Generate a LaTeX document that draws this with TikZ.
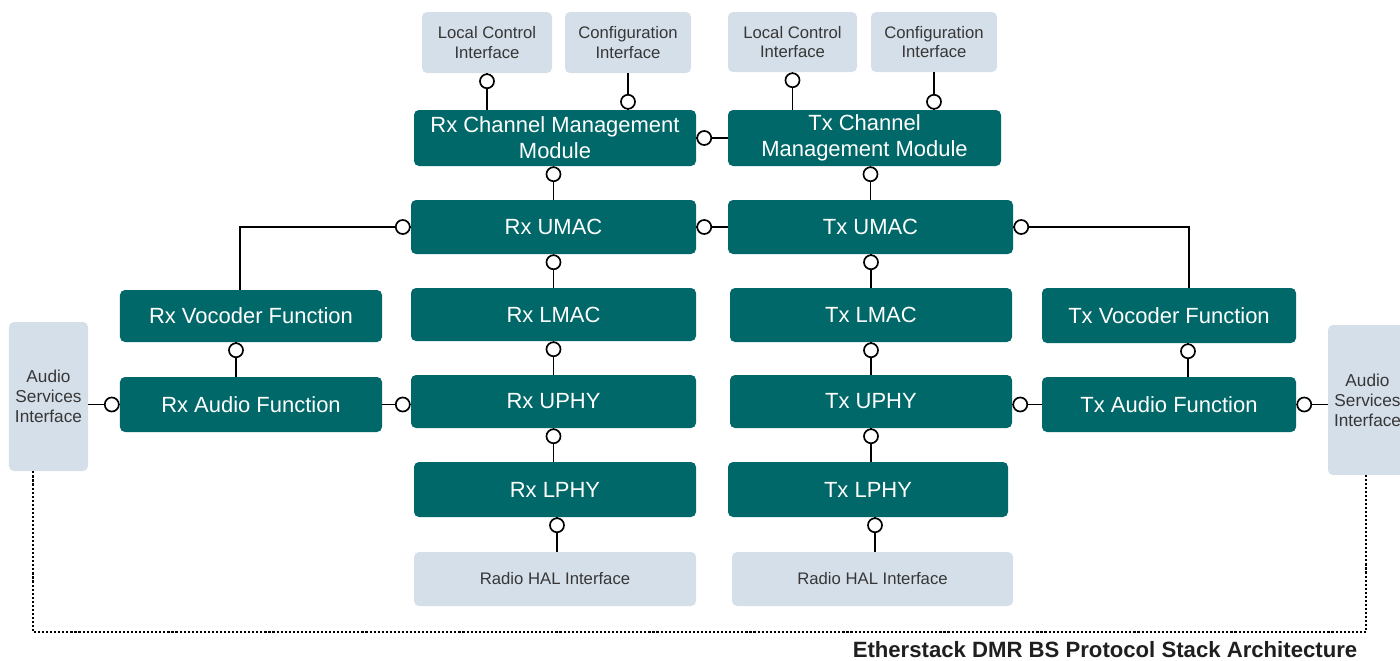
\documentclass[tikz,border=0pt]{standalone}
\usepackage{fontspec}
\setmainfont{Liberation Sans}
\definecolor{tealfill}{RGB}{0,104,104}
\definecolor{greyfill}{RGB}{213,223,233}
\definecolor{greytext}{RGB}{55,55,55}
\tikzset{
	tealbox/.style={draw=none, fill=tealfill, rounded corners=1mm, text=white, align=center,
		inner sep=0pt, font=\fontsize{12.5}{14.7}\selectfont},
	greybox/.style={draw=none, fill=greyfill, rounded corners=1mm, text=greytext, align=center,
		inner sep=0pt, font=\fontsize{9.5}{11.3}\selectfont},
	link/.style={line width=0.95pt, black},
	lolli/.style={circle, draw=black, line width=0.95pt, fill=white, inner sep=0pt, minimum size=8pt},
	dotline/.style={line width=1.2pt, dash pattern=on 1.2pt off 1.1pt}
}
\begin{document}
\begin{tikzpicture}[x=0.2mm, y=-0.2mm]
		\useasboundingbox (0,0) rectangle (1400,660);
		% interfaces on top
		\node[greybox, minimum width=26mm, minimum height=12.2mm] (rxlci) at (487,42.5) {Local Control\\Interface};
		\node[greybox, minimum width=25.2mm, minimum height=12.2mm] (rxci) at (628,42.5) {Configuration\\Interface};
		\node[greybox, minimum width=25.8mm, minimum height=12mm] (txlci) at (792.5,42) {Local Control\\Interface};
		\node[greybox, minimum width=25.2mm, minimum height=12mm] (txci) at (934,42) {Configuration\\Interface};
		% channel management
		\node[tealbox, minimum width=56.4mm, minimum height=11.2mm] (rxcmm) at (555,138) {Rx Channel Management\\Module};
		\node[tealbox, minimum width=54.6mm, minimum height=11.2mm] (txcmm) at (864.5,138) {Tx Channel\\Management Module};
		% protocol stack
		\node[tealbox, minimum width=57mm, minimum height=10.8mm] (rxumac) at (553.5,227) {Rx UMAC};
		\node[tealbox, minimum width=57mm, minimum height=10.8mm] (txumac) at (870.5,227) {Tx UMAC};
		\node[tealbox, minimum width=57mm, minimum height=10.6mm] (rxlmac) at (553.5,314.5) {Rx LMAC};
		\node[tealbox, minimum width=56.4mm, minimum height=10.8mm] (txlmac) at (871,315) {Tx LMAC};
		\node[tealbox, minimum width=57mm, minimum height=10.6mm] (rxuphy) at (553.5,401.5) {Rx UPHY};
		\node[tealbox, minimum width=56.4mm, minimum height=10.6mm] (txuphy) at (871,401.5) {Tx UPHY};
		\node[tealbox, minimum width=56.4mm, minimum height=11mm] (rxlphy) at (555,489.5) {Rx LPHY};
		\node[tealbox, minimum width=56mm, minimum height=11mm] (txlphy) at (868,489.5) {Tx LPHY};
		\node[greybox, minimum width=56.4mm, minimum height=10.8mm] (rxhal) at (555,579) {Radio HAL Interface};
		\node[greybox, minimum width=56.2mm, minimum height=10.8mm] (txhal) at (872.5,579) {Radio HAL Interface};
		% audio side
		\node[tealbox, minimum width=52.4mm, minimum height=10.4mm] (rxvoc) at (251,316) {Rx Vocoder Function};
		\node[tealbox, minimum width=52.4mm, minimum height=11mm] (rxaudio) at (251,404.5) {Rx Audio Function};
		\node[tealbox, minimum width=50.8mm, minimum height=11mm] (txvoc) at (1169,315.5) {Tx Vocoder Function};
		\node[tealbox, minimum width=50.8mm, minimum height=11mm] (txaudio) at (1169,404.5) {Tx Audio Function};
		\node[greybox, minimum width=15.8mm, minimum height=29.8mm, font=\fontsize{9.8}{11.3}\selectfont] (lasi) at (48.5,396.5) {Audio\\Services\\Interface};
		\node[greybox, minimum width=15.8mm, minimum height=30mm, font=\fontsize{9.8}{11.3}\selectfont] (rasi) at (1367.5,400) {Audio\\Services\\Interface};
		% connectors
		\draw[link] (rxcmm.north -| rxlci) -- (rxlci.south) node[lolli, anchor=north] {};
		\draw[link] (rxci.south) -- (rxci.south |- rxcmm.north) node[lolli, anchor=south] {};
		\draw[link] (txcmm.north -| txlci) -- (txlci.south) node[lolli, anchor=north] {};
		\draw[link] (txci.south) -- (txci.south |- txcmm.north) node[lolli, anchor=south] {};
		\draw[link] (txcmm.west) -- (txcmm.west -| rxcmm.east) node[lolli, anchor=west] {};
		\draw[link] (rxumac.north) -- (rxumac.north |- rxcmm.south) node[lolli, anchor=north] {};
		\draw[link] (txumac.north) -- (txumac.north |- txcmm.south) node[lolli, anchor=north] {};
		\draw[link] (txumac.west) -- (rxumac.east) node[lolli, anchor=west] {};
		\draw[link] ([xshift=-2.2mm]rxvoc.north) |- (rxumac.west) node[lolli, anchor=east] {};
		\draw[link] ([xshift=4mm]txvoc.north) |- (txumac.east) node[lolli, anchor=west] {};
		\draw[link] (rxlmac.north) -- (rxumac.south) node[lolli, anchor=north] {};
		\draw[link] (txlmac.north) -- (txlmac.north |- txumac.south) node[lolli, anchor=north] {};
		\draw[link] (rxuphy.north) -- (rxlmac.south) node[lolli, anchor=north] {};
		\draw[link] (txuphy.north) -- (txlmac.south) node[lolli, anchor=north] {};
		\draw[link] (rxlphy.north -| rxuphy) -- (rxuphy.south) node[lolli, anchor=north] {};
		\draw[link] (txlphy.north -| txuphy) -- (txuphy.south) node[lolli, anchor=north] {};
		\draw[link] ([xshift=0.4mm]rxhal.north) -- ([xshift=0.4mm]rxhal.north |- rxlphy.south) node[lolli, anchor=north] {};
		\draw[link] ([xshift=0.5mm]txhal.north) -- ([xshift=0.5mm]txhal.north |- txlphy.south) node[lolli, anchor=north] {};
		\draw[link] ([xshift=-3mm]rxaudio.north) -- ([xshift=-3mm]rxaudio.north |- rxvoc.south) node[lolli, anchor=north] {};
		\draw[link] ([xshift=3.8mm]txaudio.north) -- ([xshift=3.8mm]txaudio.north |- txvoc.south) node[lolli, anchor=north] {};
		\draw[link] (rxaudio.east) -- (rxaudio.east -| rxuphy.west) node[lolli, anchor=east] {};
		\draw[link] (lasi.east |- rxaudio) -- (rxaudio.west) node[lolli, anchor=east] {};
		\draw[link] (txaudio.west) -- (txaudio.west -| txuphy.east) node[lolli, anchor=west] {};
		\draw[link] (rasi.west |- txaudio) -- (txaudio.east) node[lolli, anchor=west] {};
		% dotted loop between the audio interfaces
		\coordinate (dl) at (33,632);
		\draw[dotline] (lasi.south -| dl) -- (dl) -| ([xshift=-0.3mm]rasi.south);
		\node[font=\bfseries\fontsize{12.6}{14}\selectfont, text=black!88] (title) at (1105,650) {Etherstack DMR BS Protocol Stack Architecture};
\end{tikzpicture}
\end{document}
